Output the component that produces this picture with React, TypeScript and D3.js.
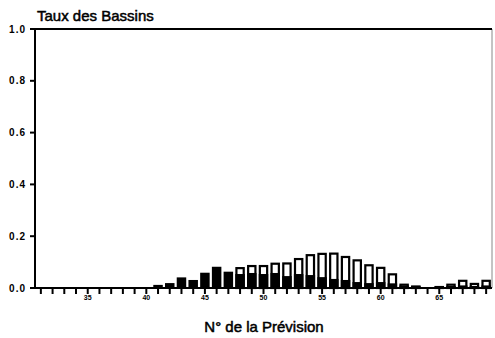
import React from "react";
import * as d3 from "d3";

const categories: number[] = d3.range(31, 70);
// black (lower) part of each bar
const blackValues: number[] = [
  0, 0, 0, 0, 0, // 31-35
  0.001, 0.002, 0.002, 0.003, 0.003, // 36-40
  0.012, 0.019, 0.041, 0.031, 0.059, // 41-45
  0.082, 0.063, 0.054, 0.058, 0.054, // 46-50
  0.058, 0.046, 0.054, 0.05, 0.042, // 51-55
  0.035, 0.031, 0.023, 0.019, 0.023, // 56-60
  0.018, 0.01, 0.008, 0.002, 0.006, // 61-65
  0.008, 0.01, 0.008, 0.01, // 66-69
];
// white (upper) part of each bar
const whiteValues: number[] = [
  0, 0, 0, 0, 0,
  0, 0, 0, 0, 0,
  0, 0, 0, 0, 0,
  0, 0, 0.027, 0.031, 0.035,
  0.04, 0.053, 0.062, 0.081, 0.094,
  0.102, 0.093, 0.088, 0.073, 0.059,
  0.039, 0.007, 0.002, 0, 0.002,
  0.009, 0.022, 0.012, 0.022,
];
const xTickLabels: number[] = [35, 40, 45, 50, 55, 60, 65];
const yTickValues: number[] = [0, 0.2, 0.4, 0.6, 0.8, 1.0];
const titleText = "Taux des Bassins";
const xTitleText = "N° de la Prévision";

export default function App() {
  const W = 495, H = 338;
  const left = 35, right = 492, top = 29, bottom = 288;
  const x = d3.scaleLinear().domain([30.5, 69.5]).range([left, right]);
  const y = d3.scaleLinear().domain([0, 1]).range([bottom, top]);
  const bw = 9.5;
  const font = "'Liberation Sans', Arial, Helvetica, sans-serif";

  return (
    <svg width={W} height={H} style={{ position: "absolute", left: 0, top: 0, background: "#fff" }}>
      <rect x={0} y={0} width={W} height={H} fill="#fff" />
      {/* bars */}
      {categories.map((c, i) => {
        const b = blackValues[i];
        const w = whiteValues[i];
        const total = b + w;
        if (total <= 0) return null;
        const cx = x(c);
        return (
          <g key={c}>
            {w > 0 && (
              <rect
                x={cx - bw / 2 + 1.1}
                y={y(total) + 1.1}
                width={bw - 2.2}
                height={Math.max(0, y(0) - y(total) - 1.1)}
                fill="#fff"
                stroke="#000"
                strokeWidth={2.2}
              />
            )}
            <rect
              x={cx - bw / 2}
              y={y(b)}
              width={bw}
              height={Math.max(0.8, y(0) - y(b))}
              fill="#000"
            />
          </g>
        );
      })}
      {/* frame */}
      <line x1={right} x2={right} y1={top} y2={bottom} stroke="#888" strokeWidth={1} />
      <line x1={left} x2={right} y1={top} y2={top} stroke="#000" strokeWidth={2} />
      <line x1={left} x2={left} y1={top - 1} y2={bottom + 1} stroke="#000" strokeWidth={2} />
      <line x1={left} x2={right} y1={bottom} y2={bottom} stroke="#000" strokeWidth={2} />
      {/* y ticks */}
      {yTickValues.map((v) => (
        <g key={v}>
          <line x1={left - 5} x2={left} y1={y(v)} y2={y(v)} stroke="#000" strokeWidth={2} />
          <text
            x={left - 9}
            y={y(v) + 3.5}
            textAnchor="end"
            fontFamily={font}
            fontSize={10}
            fontWeight="bold"
            letterSpacing={1}
            fill="#000"
          >
            {v.toFixed(1)}
          </text>
        </g>
      ))}
      {/* x ticks */}
      {categories.map((c) => (
        <line key={c} x1={x(c)} x2={x(c)} y1={bottom} y2={bottom + 6} stroke="#000" strokeWidth={2} />
      ))}
      {xTickLabels.map((t) => (
        <text
          key={t}
          x={x(t)}
          y={bottom + 12}
          textAnchor="middle"
          fontFamily={font}
          fontSize={7}
          fontWeight="bold"
          fill="#000"
        >
          {t}
        </text>
      ))}
      <text x={37} y={21} fontFamily={font} fontSize={15} fill="#000" stroke="#000" strokeWidth={0.5}>
        {titleText}
      </text>
      <text
        x={264}
        y={332}
        textAnchor="middle"
        fontFamily={font}
        fontSize={15}
        fill="#000"
        stroke="#000"
        strokeWidth={0.5}
      >
        {xTitleText}
      </text>
    </svg>
  );
}
